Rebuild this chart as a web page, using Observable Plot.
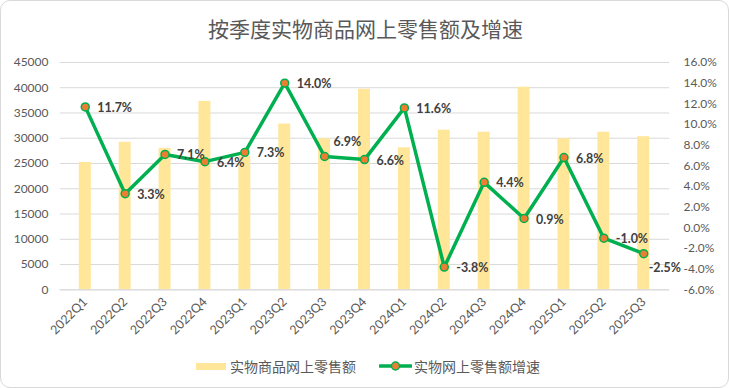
<!DOCTYPE html>
<html>
<head>
<meta charset="utf-8">
<script src="https://cdn.jsdelivr.net/npm/d3@7"></script>
<script src="https://cdn.jsdelivr.net/npm/@observablehq/plot@0.6"></script>
<style>
  html, body { margin: 0; padding: 0; background: #fff; }
  #card { position: absolute; left: 0; top: 0; width: 727px; height: 386px; border: 1px solid #d9d9d9; border-radius: 10px; background: #fff; overflow: hidden; }
  #title { position: absolute; left: 0; top: 13px; width: 729px; text-align: center; font-family: "Noto Sans CJK SC", sans-serif; font-size: 21px; color: #595959; line-height: 28px; }
  #chart { position: absolute; left: 0; top: 45px; }
  #legend { position: absolute; top: 355px; left: 0; width: 729px; height: 20px; font-family: "Noto Sans CJK SC", sans-serif; font-size: 14px; color: #595959; }
  .lg { position: absolute; top: 0; line-height: 20px; white-space: nowrap; }
</style>
</head>
<body>
<div id="card">
  <div id="title"></div>
  <div id="chart"></div>
  <div id="legend"></div>
</div>
<script>
const titleText = "按季度实物商品网上零售额及增速";
const seriesBar = "实物商品网上零售额";
const seriesLine = "实物网上零售额增速";
const quarters = ["2022Q1","2022Q2","2022Q3","2022Q4","2023Q1","2023Q2","2023Q3","2023Q4","2024Q1","2024Q2","2024Q3","2024Q4","2025Q1","2025Q2","2025Q3"];
const sales = [25200, 29200, 28000, 37300, 26400, 32800, 29900, 39700, 28100, 31600, 31200, 40100, 29900, 31200, 30300];
const growth = [11.7, 3.3, 7.1, 6.4, 7.3, 14.0, 6.9, 6.6, 11.6, -3.8, 4.4, 0.9, 6.8, -1.0, -2.5];
const leftTicks = [0, 5000, 10000, 15000, 20000, 25000, 30000, 35000, 40000, 45000];
const rightTicks = [-6, -4, -2, 0, 2, 4, 6, 8, 10, 12, 14, 16];

const gMin = -6, gMax = 16, yMax = 45000;
const toY = g => (g - gMin) / (gMax - gMin) * yMax;
const fromY = v => v / yMax * (gMax - gMin) + gMin;

const data = quarters.map((q, i) => ({q, sales: sales[i], growth: growth[i], gy: toY(growth[i]), label: growth[i].toFixed(1) + "%"}));
const normal = data.filter(d => d.q !== "2023Q3" && d.q !== "2025Q3");
const above = data.filter(d => d.q === "2023Q3");
const below = data.filter(d => d.q === "2025Q3");

const numFont = "Lato, 'Noto Sans', sans-serif";
const barColor = "#FFE699", lineColor = "#00B050", dotColor = "#ED7D31";

const chart = Plot.plot({
  width: 729,
  height: 305,
  marginLeft: 59,
  marginRight: 59,
  marginTop: 16,
  marginBottom: 61,
  style: {fontFamily: numFont, fontSize: "12px", color: "#595959", background: "transparent"},
  x: {type: "band", domain: quarters, paddingInner: 0.69, paddingOuter: 0.345, label: null},
  y: {domain: [0, yMax], label: null},
  marks: [
    Plot.gridY(leftTicks, {stroke: "#d9d9d9", strokeOpacity: 1, strokeWidth: 1}),
    Plot.barY(data, {x: "q", y: "sales", fill: barColor}),
    Plot.line(data, {x: "q", y: "gy", stroke: lineColor, strokeWidth: 3.5, strokeLinejoin: "round"}),
    Plot.dot(data, {x: "q", y: "gy", r: 4, fill: dotColor, stroke: lineColor, strokeWidth: 1.5}),
    Plot.text(normal, {x: "q", y: "gy", text: "label", textAnchor: "start", dx: 12, dy: 1, fontWeight: "bold", fill: "#404040", fontSize: 12.5}),
    Plot.text(above, {x: "q", y: "gy", text: "label", textAnchor: "start", dx: 9, dy: -15, fontWeight: "bold", fill: "#404040", fontSize: 12.5}),
    Plot.text(below, {x: "q", y: "gy", text: "label", textAnchor: "start", dx: 5, dy: 14, fontWeight: "bold", fill: "#404040", fontSize: 12.5}),
    Plot.axisY(leftTicks, {anchor: "left", tickSize: 0, tickPadding: 12, tickFormat: d => String(d), label: null, fill: "#595959"}),
    Plot.axisY(rightTicks.map(toY), {anchor: "right", tickSize: 0, tickPadding: 14, tickFormat: v => fromY(v).toFixed(1) + "%", label: null, fill: "#595959"}),
    Plot.axisX({tickSize: 0, tickPadding: 10, tickRotate: -45, label: null, fill: "#595959", fontSize: 12.5}),
    Plot.ruleY([0], {stroke: "#d9d9d9"})
  ]
});
document.getElementById("chart").appendChild(chart);
document.getElementById("title").textContent = titleText;

const legend = document.getElementById("legend");
legend.innerHTML = `
  <span class="lg" style="left:195px;top:6.5px;width:30px;height:7px;background:${barColor}"></span>
  <span class="lg" style="left:229px">${seriesBar}</span>
  <svg class="lg" style="left:378px" width="33" height="20"><line x1="1" x2="32" y1="10" y2="10" stroke="${lineColor}" stroke-width="3.5" stroke-linecap="round"/><circle cx="16.5" cy="10" r="4" fill="${dotColor}" stroke="${lineColor}" stroke-width="1.5"/></svg>
  <span class="lg" style="left:413px">${seriesLine}</span>
`;
</script>
</body>
</html>
